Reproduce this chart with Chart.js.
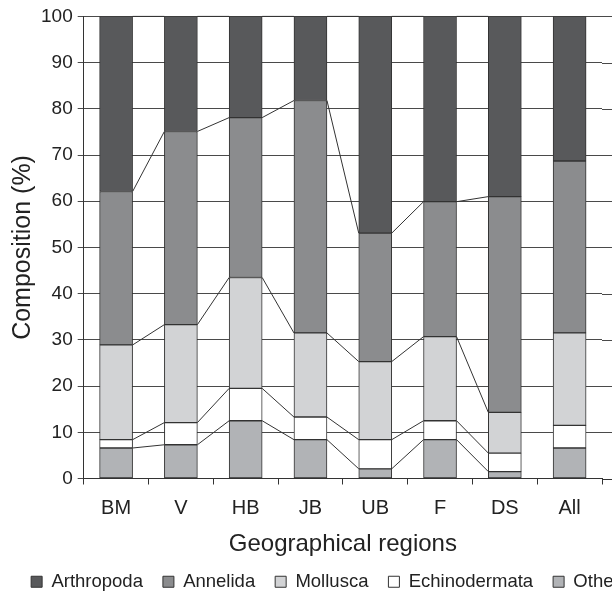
<!DOCTYPE html>
<html>
<head>
<meta charset="utf-8">
<script src="https://cdn.jsdelivr.net/npm/chart.js@4.4.0/dist/chart.umd.min.js"></script>
<style>
  html, body { margin: 0; padding: 0; background: #fff; overflow: hidden; }
  .box { width: 660px; height: 601px; }
</style>
</head>
<body>
<div class="box"><canvas id="myChart"></canvas></div>
<script>
// regions plus the pooled column
const regions = ['BM', 'V', 'HB', 'JB', 'UB', 'F', 'DS'];
const overall = 'All';
const labels = [...regions, overall];

// composition (%) per group, bottom of the stack first
const others        = [6.6, 7.3, 12.5, 8.4, 2.1, 8.4, 1.5, 6.6];
const echinodermata = [1.8, 4.8, 7.0, 4.9, 6.3, 4.1, 4.0, 4.9];
const mollusca      = [20.5, 21.2, 24.0, 18.2, 16.9, 18.2, 8.8, 20.0];
const annelida      = [33.2, 41.8, 34.6, 50.3, 27.8, 29.2, 46.7, 37.2];
const arthropoda    = [37.9, 24.9, 21.9, 18.2, 46.9, 40.1, 39.0, 31.3];

const yTicks = [0, 10, 20, 30, 40, 50, 60, 70, 80, 90, 100];

const fontFamily = '"Liberation Sans", Arial, Helvetica, sans-serif';
const textColor = '#222';
const gridColor = '#4a4a4a';

// Excel-style series lines joining the top of each segment between regions
const seriesLines = {
    id: 'seriesLines',
    beforeDatasetsDraw(chart) {
        // the gridlines run on to the cropped right edge of the figure
        const ctx = chart.ctx, y = chart.scales.y, area = chart.chartArea;
        ctx.save();
        ctx.lineWidth = 1;
        yTicks.forEach(v => {
            const py = Math.round(y.getPixelForValue(v)) + 0.5;
            ctx.strokeStyle = v === 0 ? '#333' : gridColor;
            ctx.beginPath();
            ctx.moveTo(area.right, py);
            ctx.lineTo(chart.width, py);
            ctx.stroke();
        });
        ctx.restore();
    },
    afterDatasetsDraw(chart) {
        const ctx = chart.ctx;
        ctx.save();
        ctx.strokeStyle = '#333';
        ctx.lineWidth = 1;
        chart.data.datasets.forEach((ds, d) => {
            const bars = chart.getDatasetMeta(d).data;
            for (let i = 0; i < regions.length - 1; i++) {
                const a = bars[i], b = bars[i + 1];
                ctx.beginPath();
                ctx.moveTo(a.x + a.width / 2, a.y);
                ctx.lineTo(b.x - b.width / 2, b.y);
                ctx.stroke();
            }
        });
        ctx.restore();
    }
};

function makeSet(label, data, color) {
    return {
        label: label,
        data: data,
        backgroundColor: color,
        borderColor: '#333',
        borderWidth: 1,
        borderSkipped: false,
        barThickness: 33
    };
}

const ctx = document.getElementById('myChart').getContext('2d');
const myChart = new Chart(ctx, {
    type: 'bar',
    data: {
        labels: labels,
        datasets: [
            makeSet('Others', others, '#b1b3b6'),
            makeSet('Echinodermata', echinodermata, '#ffffff'),
            makeSet('Mollusca', mollusca, '#d2d3d5'),
            makeSet('Annelida', annelida, '#8b8c8e'),
            makeSet('Arthropoda', arthropoda, '#58595b')
        ]
    },
    plugins: [seriesLines],
    options: {
        responsive: true,
        maintainAspectRatio: false,
        animation: false,
        layout: {
            padding: { top: 15, left: 6, right: 6, bottom: 0 }
        },
        plugins: {
            legend: {
                position: 'bottom',
                reverse: true,
                labels: {
                    boxWidth: 11,
                    boxHeight: 11,
                    padding: 20,
                    color: textColor,
                    font: { family: fontFamily, size: 18.5 }
                }
            },
            tooltip: { enabled: false }
        },
        scales: {
            x: {
                stacked: true,
                offset: true,
                grid: {
                    offset: true,
                    drawOnChartArea: false,
                    drawTicks: true,
                    tickLength: 6,
                    // no tick mark on the last slot edge
                    color: c => c.index === labels.length ? 'rgba(0,0,0,0)' : '#333'
                },
                border: { color: '#333', width: 1 },
                ticks: {
                    color: textColor,
                    padding: 12,
                    maxRotation: 0,
                    font: { family: fontFamily, size: 20 }
                },
                title: {
                    display: true,
                    text: 'Geographical regions',
                    color: textColor,
                    padding: { top: 0, bottom: -4 },
                    font: { family: fontFamily, size: 24, lineHeight: 1 }
                }
            },
            y: {
                stacked: true,
                min: 0,
                max: 100,
                afterBuildTicks(scale) {
                    scale.ticks = yTicks.map(v => ({ value: v }));
                },
                grid: {
                    color: gridColor,
                    lineWidth: 1,
                    drawTicks: true,
                    tickLength: 6
                },
                border: { color: '#333', width: 1 },
                ticks: {
                    color: textColor,
                    padding: 5,
                    font: { family: fontFamily, size: 19 }
                },
                title: {
                    display: true,
                    text: 'Composition (%)',
                    color: textColor,
                    padding: { top: 5, bottom: 0 },
                    font: { family: fontFamily, size: 25, lineHeight: 1 }
                }
            },
            y2: {
                position: 'right',
                display: true,
                grid: { display: false },
                border: { display: false },
                ticks: { display: false },
                afterFit(scale) {
                    scale.width = 52;
                }
            }
        }
    }
});
</script>
</body>
</html>
